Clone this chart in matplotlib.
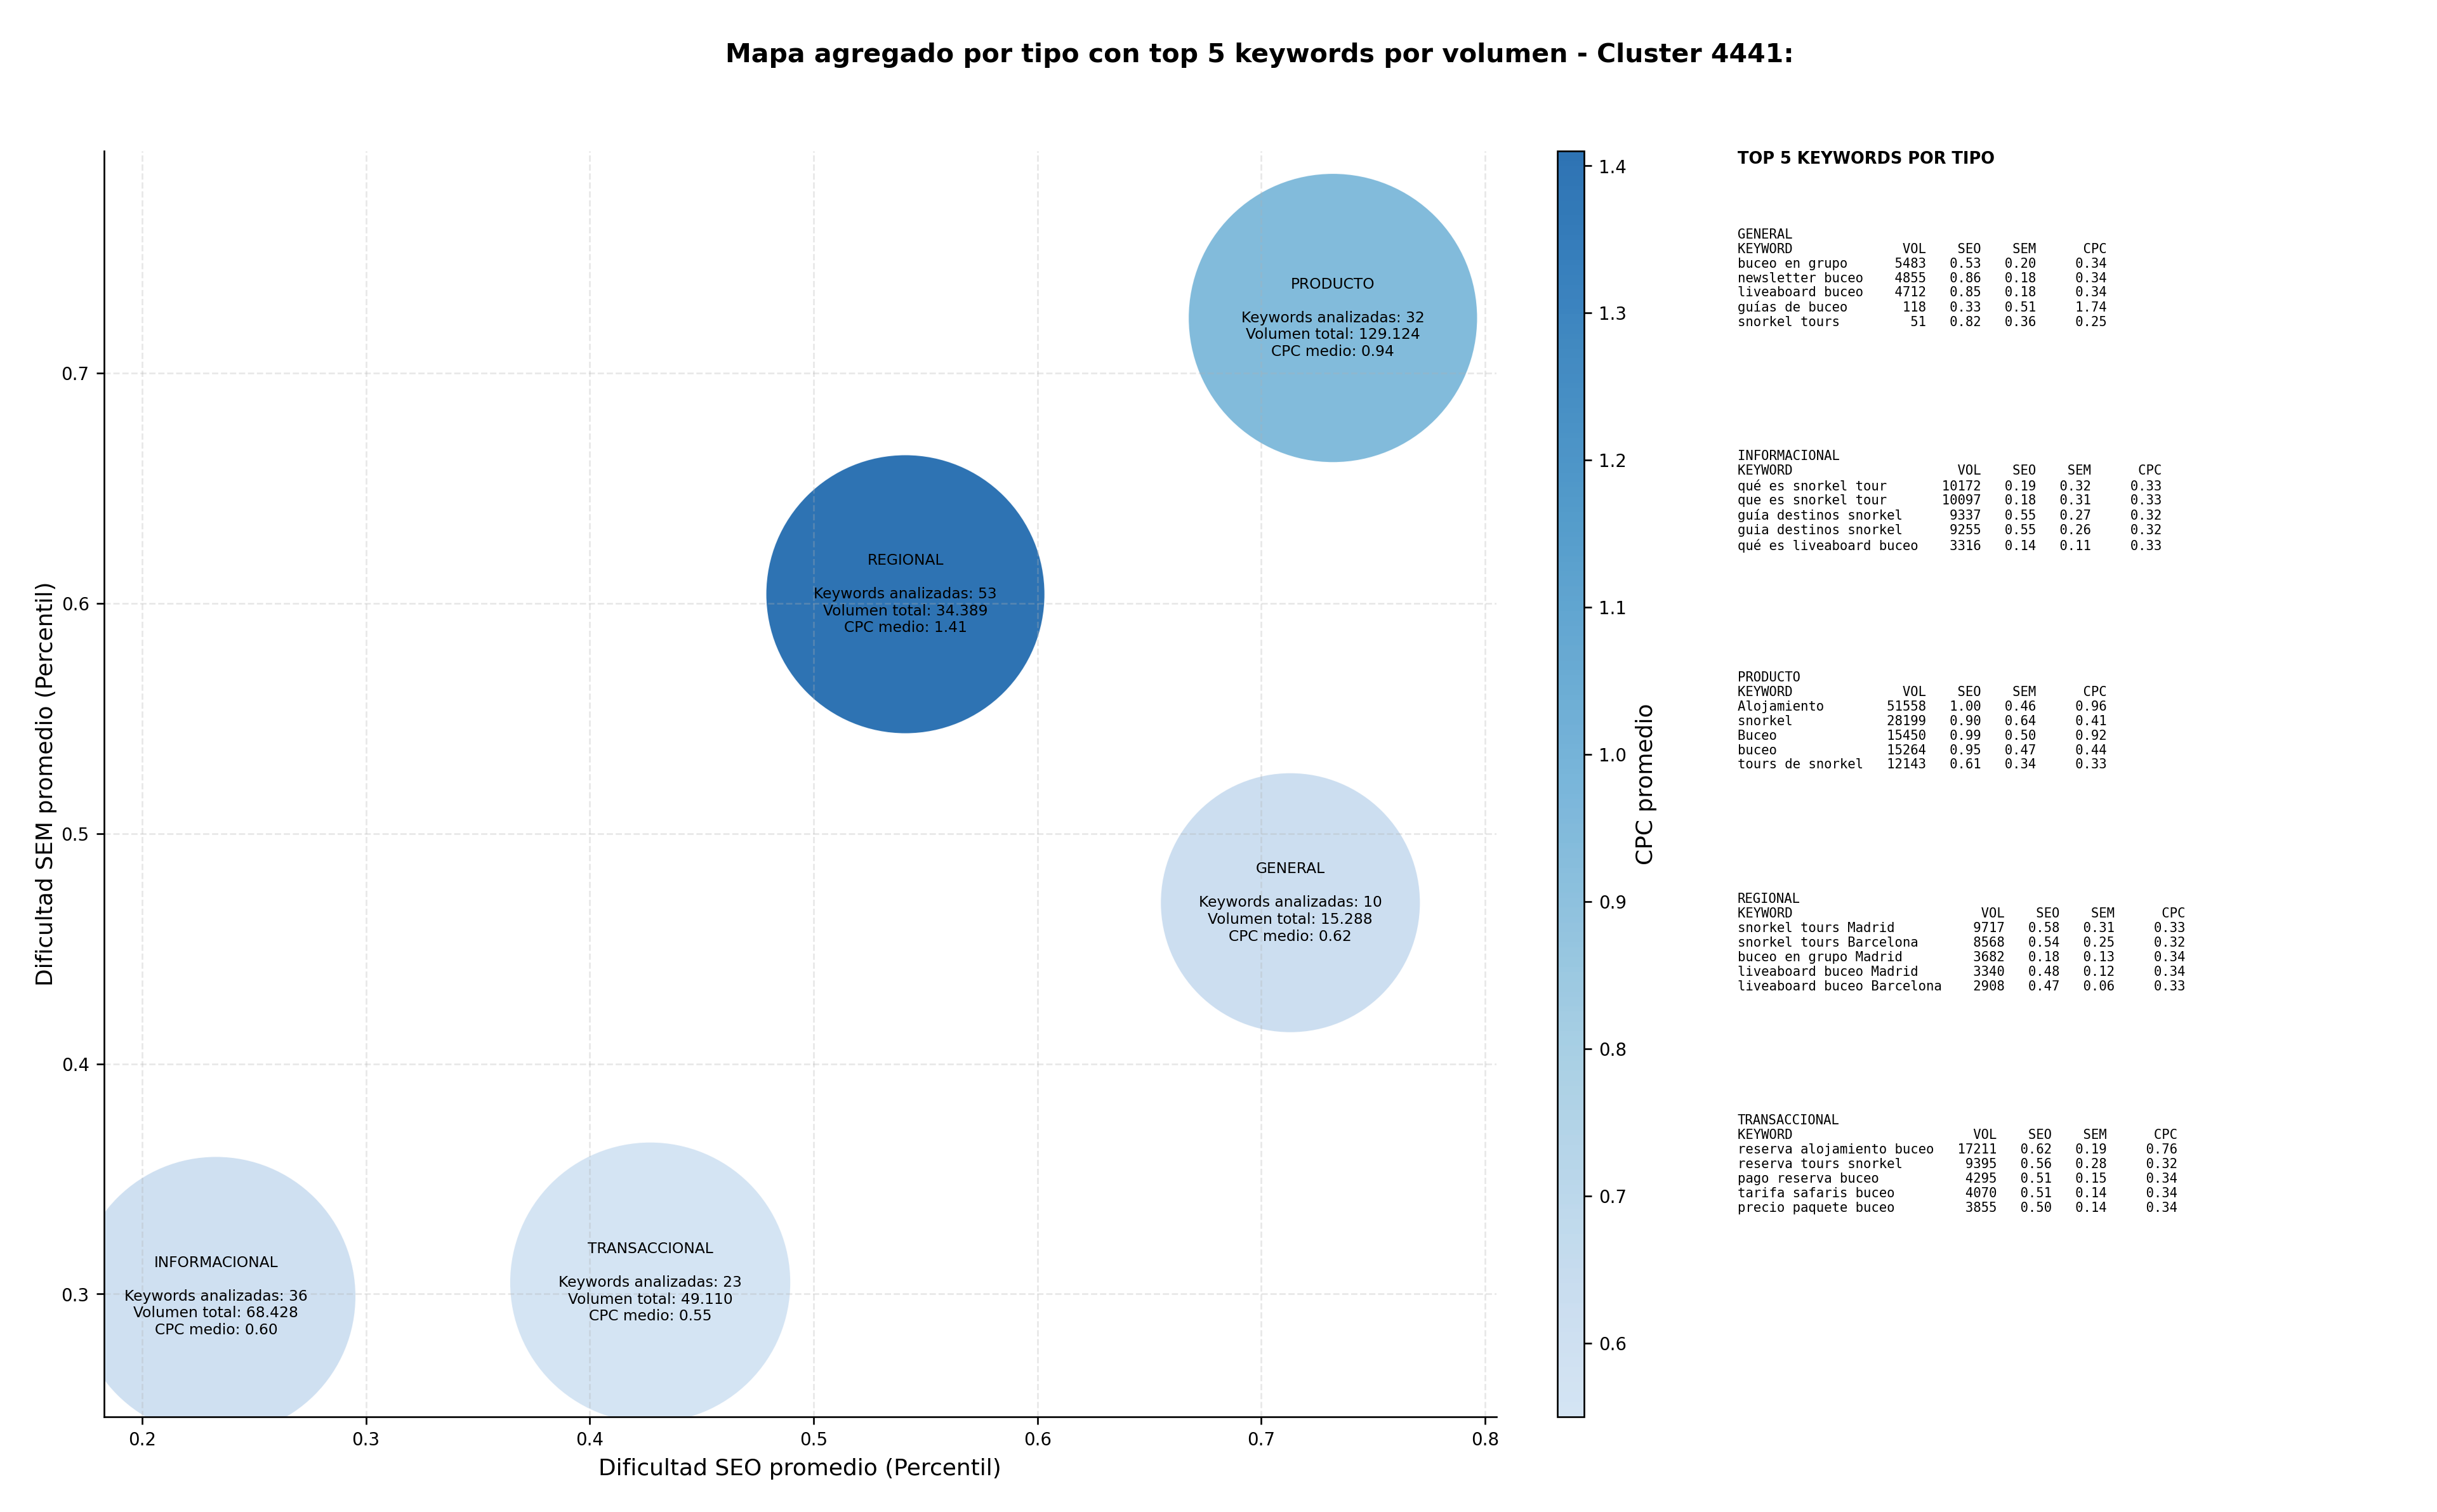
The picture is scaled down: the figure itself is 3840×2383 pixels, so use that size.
import matplotlib

matplotlib.use("Agg")
import matplotlib.pyplot as plt
import numpy as np
from matplotlib.colors import ListedColormap

# aggregated values per keyword type
tipos = ["GENERAL", "INFORMACIONAL", "PRODUCTO", "REGIONAL", "TRANSACCIONAL"]
seo_medio = [0.713, 0.233, 0.732, 0.541, 0.427]
sem_medio = [0.470, 0.299, 0.724, 0.604, 0.305]
cpc_medio = [0.62, 0.60, 0.94, 1.41, 0.55]
n_keywords = [10, 36, 32, 53, 23]
volumen_total = [15288, 68428, 129124, 34389, 49110]
burbuja = [15100, 17500, 18700, 17400, 17650]

# top 5 keywords per type: keyword, volume, seo, sem, cpc
top_general = [
    ("buceo en grupo", 5483, 0.53, 0.20, 0.34),
    ("newsletter buceo", 4855, 0.86, 0.18, 0.34),
    ("liveaboard buceo", 4712, 0.85, 0.18, 0.34),
    ("guías de buceo", 118, 0.33, 0.51, 1.74),
    ("snorkel tours", 51, 0.82, 0.36, 0.25),
]
top_informacional = [
    ("qué es snorkel tour", 10172, 0.19, 0.32, 0.33),
    ("que es snorkel tour", 10097, 0.18, 0.31, 0.33),
    ("guía destinos snorkel", 9337, 0.55, 0.27, 0.32),
    ("guia destinos snorkel", 9255, 0.55, 0.26, 0.32),
    ("qué es liveaboard buceo", 3316, 0.14, 0.11, 0.33),
]
top_producto = [
    ("Alojamiento", 51558, 1.00, 0.46, 0.96),
    ("snorkel", 28199, 0.90, 0.64, 0.41),
    ("Buceo", 15450, 0.99, 0.50, 0.92),
    ("buceo", 15264, 0.95, 0.47, 0.44),
    ("tours de snorkel", 12143, 0.61, 0.34, 0.33),
]
top_regional = [
    ("snorkel tours Madrid", 9717, 0.58, 0.31, 0.33),
    ("snorkel tours Barcelona", 8568, 0.54, 0.25, 0.32),
    ("buceo en grupo Madrid", 3682, 0.18, 0.13, 0.34),
    ("liveaboard buceo Madrid", 3340, 0.48, 0.12, 0.34),
    ("liveaboard buceo Barcelona", 2908, 0.47, 0.06, 0.33),
]
top_transaccional = [
    ("reserva alojamiento buceo", 17211, 0.62, 0.19, 0.76),
    ("reserva tours snorkel", 9395, 0.56, 0.28, 0.32),
    ("pago reserva buceo", 4295, 0.51, 0.15, 0.34),
    ("tarifa safaris buceo", 4070, 0.51, 0.14, 0.34),
    ("precio paquete buceo", 3855, 0.50, 0.14, 0.34),
]
tops = [top_general, top_informacional, top_producto, top_regional, top_transaccional]


def fmt_vol(v):
    return f"{v:,}".replace(",", ".")


def tabla(nombre, filas):
    w = max(len(r[0]) for r in filas)
    lines = [nombre, f"{'KEYWORD':<{w}}{'VOL':>8}{'SEO':>7}{'SEM':>7}{'CPC':>9}"]
    for kw, vol, seo, sem, cpc in filas:
        lines.append(f"{kw:<{w}}{vol:>8}{seo:>7.2f}{sem:>7.2f}{cpc:>9.2f}")
    return "\n".join(lines)


fig = plt.figure(figsize=(16, 9.93), dpi=240)
ax = fig.add_axes([0.0427, 0.063, 0.5713, 0.837])
cax = fig.add_axes([0.639, 0.063, 0.011, 0.837])

cmap = ListedColormap(plt.cm.Blues(np.linspace(0.2, 0.8, 256)))
sc = ax.scatter(seo_medio, sem_medio, s=burbuja, c=cpc_medio, cmap=cmap,
                alpha=0.9, edgecolors="white", linewidths=0.5)

for t, x, y, n, v, c in zip(tipos, seo_medio, sem_medio, n_keywords, volumen_total, cpc_medio):
    ax.text(x, y, f"{t}\n\nKeywords analizadas: {n}\nVolumen total: {fmt_vol(v)}\nCPC medio: {c:.2f}",
            ha="center", va="center", fontsize=7)

ax.set_xlim(0.183, 0.805)
ax.set_ylim(0.2467, 0.7965)
ax.set_xlabel("Dificultad SEO promedio (Percentil)", fontsize=10.8)
ax.set_ylabel("Dificultad SEM promedio (Percentil)", fontsize=10.8, labelpad=2)
ax.tick_params(labelsize=8.3)
ax.grid(True, linestyle="--", alpha=0.3)
ax.spines["top"].set_visible(False)
ax.spines["right"].set_visible(False)

cb = fig.colorbar(sc, cax=cax)
cb.set_label("CPC promedio", fontsize=10.8)
cb.ax.tick_params(labelsize=8.3)

fig.suptitle("Mapa agregado por tipo con top 5 keywords por volumen - Cluster 4441:",
             fontsize=12.3, fontweight="bold", x=0.517, y=0.972)

fig.text(0.713, 0.9, "TOP 5 KEYWORDS POR TIPO", fontsize=7.7, fontweight="bold", va="top")
for i, (t, filas) in enumerate(zip(tipos, tops)):
    fig.text(0.713, 0.849 - i * 0.1465, tabla(t, filas), family="monospace",
             fontsize=6.2, va="top", linespacing=1.18)

fig.savefig("out.png", dpi=240)
